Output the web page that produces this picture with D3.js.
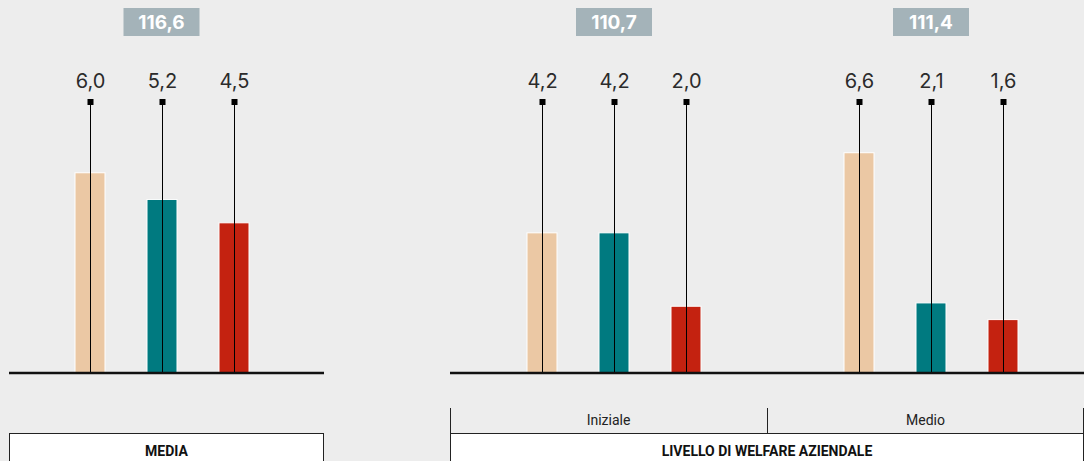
<!DOCTYPE html>
<html>
<head>
<meta charset="utf-8">
<script src="https://cdn.jsdelivr.net/npm/d3@7"></script>
<style>
  html, body { margin: 0; padding: 0; background: #ededed; }
  svg { display: block; }
</style>
</head>
<body>
<script>
// data
const groups = ['Media', 'Iniziale', 'Medio'];
const series = ['Serie 1', 'Serie 2', 'Serie 3'];
const values = [
  [6.0, 5.2, 4.5],
  [4.2, 4.2, 2.0],
  [6.6, 2.1, 1.6],
];
const totals = ['116,6', '110,7', '111,4'];
const colors = ['#ebc8a4', '#007a80', '#c42210'];
const panelTitles = ['MEDIA', 'LIVELLO DI WELFARE AZIENDALE'];

const width = 1084, height = 461;
const base = 373;

const svg = d3.select('body')
  .append('svg')
    .attr('width', width)
    .attr('height', height);

svg.append('rect')
    .attr('width', width)
    .attr('height', height)
    .attr('fill', '#ededed');

const y = d3.scaleLinear()
  .domain([0, 8])
  .range([base, 106]);

// panel 1 has one group, panel 2 has two
const panels = [
  { x0: 9, x1: 324, groups: ['Media'], shift: -5, title: panelTitles[0], labels: false },
  { x0: 450, x1: 1084, groups: ['Iniziale', 'Medio'], shift: 5.5, title: panelTitles[1], labels: true },
];

const fmt = v => d3.format('.1f')(v).replace('.', ',');

const inner = d3.scaleBand()
  .domain(series)
  .range([-108, 108]);

panels.forEach(p => {
  const outer = d3.scaleBand()
    .domain(p.groups)
    .range([p.x0, p.x1]);

  const g = svg.append('g').attr('class', 'panel');

  p.groups.forEach(name => {
    const gi = groups.indexOf(name);
    const cx = outer(name) + outer.bandwidth() / 2 + p.shift;

    // total box
    const box = g.append('g')
        .attr('transform', `translate(${cx}, 22)`);
    box.append('rect')
        .attr('x', -38)
        .attr('y', -14)
        .attr('width', 76)
        .attr('height', 28)
        .attr('fill', '#a4b3b9');
    box.append('text')
        .attr('text-anchor', 'middle')
        .attr('dy', '0.36em')
        .attr('fill', '#fff')
        .attr('font-family', 'Inter, sans-serif')
        .attr('font-weight', 'bold')
        .attr('font-size', 19)
        .text(totals[gi]);

    series.forEach((s, si) => {
      const x = Math.round(cx + inner(s) + inner.bandwidth() / 2);
      const v = values[gi][si];

      g.append('rect')
          .attr('x', x - 15)
          .attr('y', y(v))
          .attr('width', 30)
          .attr('height', base - y(v))
          .attr('fill', colors[si])
          .attr('stroke', '#fff')
          .attr('stroke-width', 1);

      g.append('line')
          .attr('x1', x + 0.5)
          .attr('x2', x + 0.5)
          .attr('y1', y(8) - 4)
          .attr('y2', base)
          .attr('stroke', '#000')
          .attr('stroke-width', 1);

      g.append('rect')
          .attr('x', x - 2.5)
          .attr('y', y(8) - 7)
          .attr('width', 6)
          .attr('height', 6)
          .attr('fill', '#000');

      g.append('text')
          .attr('x', x + 0.5)
          .attr('y', 88)
          .attr('text-anchor', 'middle')
          .attr('fill', '#2b2b2b')
          .attr('font-family', 'Inter, sans-serif')
          .attr('font-size', 20)
          .text(fmt(v));
    });
  });

  // baseline
  g.append('line')
      .attr('x1', p.x0)
      .attr('x2', p.x1)
      .attr('y1', base)
      .attr('y2', base)
      .attr('stroke', '#111')
      .attr('stroke-width', 2.6);

  // group labels row
  if (p.labels) {
    const ticks = p.groups.map(n => outer(n)).concat([p.x1 - 1]);
    ticks.forEach(t => {
      g.append('line')
          .attr('x1', t + 0.5)
          .attr('x2', t + 0.5)
          .attr('y1', 408)
          .attr('y2', 433)
          .attr('stroke', '#222')
          .attr('stroke-width', 1);
    });
    p.groups.forEach(n => {
      g.append('text')
          .attr('x', outer(n) + outer.bandwidth() / 2)
          .attr('y', 425)
          .attr('text-anchor', 'middle')
          .attr('fill', '#222')
          .attr('font-family', 'Roboto, sans-serif')
          .attr('font-size', 14)
          .text(n);
    });
  }

  // title box
  g.append('rect')
      .attr('x', p.x0 + 0.5)
      .attr('y', 433.5)
      .attr('width', p.x1 - p.x0 - 1)
      .attr('height', 40)
      .attr('fill', '#fff')
      .attr('stroke', '#222')
      .attr('stroke-width', 1);
  g.append('text')
      .attr('x', (p.x0 + p.x1) / 2)
      .attr('y', 456)
      .attr('text-anchor', 'middle')
      .attr('fill', '#111')
      .attr('font-family', 'Roboto, sans-serif')
      .attr('font-weight', 'bold')
      .attr('font-size', 14)
      .text(p.title);
});
</script>
</body>
</html>
